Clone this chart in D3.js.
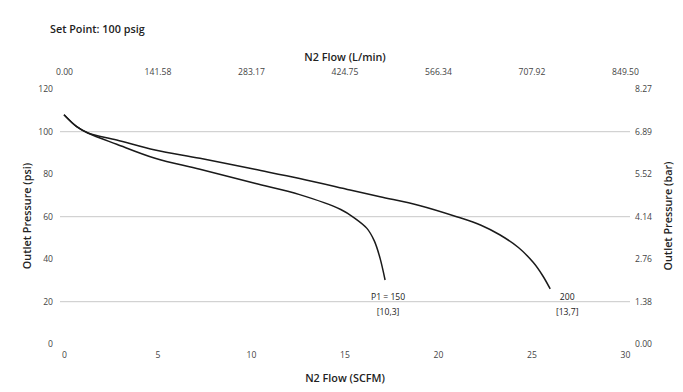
<!DOCTYPE html>
<html><head><meta charset="utf-8">
<script src="https://cdn.jsdelivr.net/npm/d3@7"></script>
<style>body{margin:0;background:#fff}svg{display:block}text{font-family:"Open Sans","Noto Sans",sans-serif}</style>
</head><body><div id="chart"></div>
<script>
const flow150 = [0, 0.68, 1.28, 2.82, 4.87, 7.27, 10.2, 12.6, 14.8, 15.5, 16.2, 16.6, 16.9, 17.17];
const press150 = [108, 102.4, 99.4, 94.1, 87.5, 82.3, 75.7, 70.4, 63.4, 59.6, 54.5, 48.5, 40.5, 30.2];
const flow200 = [0, 0.68, 1.28, 2.82, 4.87, 7.27, 10.2, 12.6, 15.3, 16.9, 19.0, 21.0, 22.3, 23.3, 24.3, 25.1, 25.6, 26.0];
const press200 = [108, 102.4, 99.4, 96.1, 91.4, 87.5, 82.3, 78.0, 72.6, 69.4, 65.3, 60.0, 56.0, 51.5, 45.5, 38.4, 32.2, 26.0];
const xTicks = [0, 5, 10, 15, 20, 25, 30];
const topTickLabels = ["0.00", "141.58", "283.17", "424.75", "566.34", "707.92", "849.50"];
const yTicks = [0, 20, 40, 60, 80, 100, 120];
const barTickLabels = ["0.00", "1.38", "2.76", "4.14", "5.52", "6.89", "8.27"];
const gridValues = [20, 60, 100];
const seriesLabels = [["P1 = 150", "[10,3]"], ["200", "[13,7]"]];

const W = 683, H = 392;
const svg = d3.select("#chart").append("svg").attr("width", W).attr("height", H);
const x = d3.scaleLinear().domain([0, 30]).range([64, 625]);
const y = d3.scaleLinear().domain([0, 120]).range([344.2, 89.2]);
const tickCol = "#444";
const tickSize = "8.6px";
const titleSize = "10.8px";

// gridlines
svg.append("g").selectAll("line").data(gridValues).join("line")
  .attr("x1", 60).attr("x2", 630).attr("y1", d => y(d)).attr("y2", d => y(d))
  .attr("stroke", "#c8c8c8").attr("stroke-width", 1);

// left axis labels
const leftAxis = d3.axisLeft(y).tickValues(yTicks).tickSize(0).tickPadding(0);
const gl = svg.append("g").attr("transform", "translate(53,0)").call(leftAxis);
gl.select(".domain").remove();
gl.selectAll("text").attr("fill", tickCol).style("font-size", tickSize);

// right axis labels
const rightAxis = d3.axisRight(y).tickValues(yTicks).tickSize(0).tickPadding(0)
  .tickFormat((d, i) => barTickLabels[i]);
const gr = svg.append("g").attr("transform", "translate(635,0)").call(rightAxis);
gr.select(".domain").remove();
gr.selectAll("text").attr("fill", tickCol).style("font-size", tickSize);

// bottom axis labels
const bottomAxis = d3.axisBottom(x).tickValues(xTicks).tickSize(0).tickPadding(0);
const gb = svg.append("g").attr("transform", "translate(0,352)").call(bottomAxis);
gb.select(".domain").remove();
gb.selectAll("text").attr("fill", tickCol).style("font-size", tickSize);

// top axis labels
const topAxis = d3.axisTop(x).tickValues(xTicks).tickSize(0).tickPadding(0)
  .tickFormat((d, i) => topTickLabels[i]);
const gt = svg.append("g").attr("transform", "translate(0,75)").call(topAxis);
gt.select(".domain").remove();
gt.selectAll("text").attr("fill", tickCol).style("font-size", tickSize);

// curves
const line = d3.line().x(d => x(d[0])).y(d => y(d[1])).curve(d3.curveCatmullRom.alpha(0.5));
const s150 = flow150.map((f, i) => [f, press150[i]]);
const s200 = flow200.map((f, i) => [f, press200[i]]);
[s150, s200].forEach(s => {
  svg.append("path").datum(s).attr("d", line).attr("fill", "none")
    .attr("stroke", "#1a1a1a").attr("stroke-width", 1.5);
});

// series labels
const ends = [s150[s150.length - 1], s200[s200.length - 1]];
const offs = [3, 17];
seriesLabels.forEach((lab, i) => {
  const g = svg.append("g");
  g.append("text").attr("x", x(ends[i][0]) + offs[i]).attr("y", 299.5)
    .attr("text-anchor", "middle").style("font-size", tickSize).attr("fill", "#222").text(lab[0]);
  g.append("text").attr("x", x(ends[i][0]) + offs[i]).attr("y", 314.5)
    .attr("text-anchor", "middle").style("font-size", tickSize).attr("fill", "#222").text(lab[1]);
});

// titles
svg.append("text").attr("x", 50).attr("y", 33).style("font-size", titleSize).style("font-weight", "600")
  .attr("fill", "#222").text("Set Point: 100 psig");
svg.append("text").attr("x", 345).attr("y", 61).attr("text-anchor", "middle").style("font-size", titleSize)
  .style("font-weight", "600").attr("fill", "#222").text("N2 Flow (L/min)");
svg.append("text").attr("x", 345).attr("y", 382).attr("text-anchor", "middle").style("font-size", titleSize)
  .style("font-weight", "600").attr("fill", "#222").text("N2 Flow (SCFM)");
svg.append("text").attr("transform", "translate(31,216) rotate(-90)").attr("text-anchor", "middle")
  .style("font-size", titleSize).style("font-weight", "600").attr("fill", "#222").text("Outlet Pressure (psi)");
svg.append("text").attr("transform", "translate(672,216) rotate(-90)").attr("text-anchor", "middle")
  .style("font-size", titleSize).style("font-weight", "600").attr("fill", "#222").text("Outlet Pressure (bar)");
</script></body></html>
